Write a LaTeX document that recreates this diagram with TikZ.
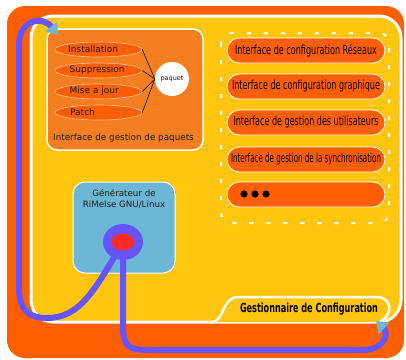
\documentclass[tikz,border=0pt]{standalone}
\usepackage{fontspec}
\setmainfont{DejaVu Sans}
\usetikzlibrary{shapes.geometric,arrows.meta}
\definecolor{outerorange}{RGB}{255,95,0}
\definecolor{boxyellow}{RGB}{255,198,16}
\definecolor{pkgorange}{RGB}{245,126,32}
\definecolor{genblue}{RGB}{108,182,214}
\definecolor{ringblue}{RGB}{102,85,255}
\definecolor{dotred}{RGB}{255,42,42}
\definecolor{txtdark}{RGB}{26,26,26}
\definecolor{ellborder}{RGB}{255,190,150}
\newcommand{\fitw}[2]{\resizebox{#1}{\height}{#2}}
\begin{document}
\begin{tikzpicture}[x=1pt,y=-1pt,
  pkgbox/.style={rectangle, rounded corners=10pt, fill=pkgorange, draw=white, line width=1.5pt, minimum width=156pt, minimum height=121pt, inner sep=0pt},
  pkgell/.style={ellipse, fill=outerorange, draw=ellborder, line width=0.6pt, minimum width=87pt, minimum height=15pt, inner sep=0pt},
  elltext/.style={anchor=west, inner sep=0pt, text=txtdark, font=\fontsize{9}{10}\selectfont},
  paqnode/.style={circle, fill=white, minimum size=34pt, inner sep=0pt, text=txtdark, font=\fontsize{6.5}{7}\selectfont},
  pill/.style={rectangle, rounded corners=12.5pt, fill=outerorange, draw=white, line width=0.8pt, minimum width=158pt, minimum height=25pt, inner sep=0pt, text=black, font=\fontsize{12.5}{13}\selectfont},
  genbox/.style={rectangle, rounded corners=12pt, fill=genblue, draw=white, line width=1pt, minimum width=102pt, minimum height=91pt, inner sep=0pt},
  bluepath/.style={draw=ringblue, line width=6pt},
  tip/.style={-{Triangle[length=11pt,width=15pt,color=genblue]}},
  wire/.style={draw=txtdark, line width=0.7pt}
]
\useasboundingbox (0,0) rectangle (406,359);
% outer frame
\fill[outerorange, rounded corners=18pt] (7,6) rectangle (404,358);
% configuration manager box
\draw[white, line width=3pt, fill=boxyellow, rounded corners=22pt] (31,16) rectangle (401,322);
\draw[white, line width=2.5pt, fill=boxyellow] (212,322) .. controls (224,322) and (222,297) .. (238,297) -- (376,297) .. controls (392,297) and (394,314) .. (380,322);
\node[inner sep=0pt, font=\bfseries\fontsize{12.5}{13}\selectfont, text=black] (gest) at (309,309.5) {\fitw{138pt}{Gestionnaire de Configuration}};
% package interface
\node[pkgbox] (pkg) at (125,89.5) {};
\node[pkgell] (inst) at (98.5,49.5) {};
\node[pkgell] (supp) at (98.5,70.5) {};
\node[pkgell] (maj) at (98.5,91.5) {};
\node[pkgell] (patch) at (98.5,112.5) {};
\node[elltext] (tinst) at (68,49.5) {Installation};
\node[elltext] (tsupp) at (69.5,70.5) {Suppression};
\node[elltext] (tmaj) at (69.5,91.5) {Mise a jour};
\node[elltext] (tpatch) at (70,112.5) {Patch};
\node[paqnode] (paq) at (172,79) {paquet};
\draw[wire] (inst.east) -- (paq.west);
\draw[wire] (supp.east) -- (paq.west);
\draw[wire] (maj.east) -- (paq.west);
\draw[wire] (patch.east) -- (paq.west);
\node[text=txtdark, inner sep=0pt, font=\fontsize{8.8}{10}\selectfont] (pkglbl) at (123.5,138) {Interface de gestion de paquets};
% dashed group
\draw[white, line width=2pt, dash pattern=on 4pt off 13pt, rounded corners=10pt] (221,33) rectangle (389,223);
\node[pill] (p1) at (306,50.5) {\fitw{142pt}{Interface de configuration Réseaux}};
\node[pill] (p2) at (306,86.5) {\fitw{148pt}{Interface de configuration graphique}};
\node[pill] (p3) at (306,122.5) {\fitw{145pt}{Interface de gestion des utilisateurs}};
\node[pill] (p4) at (306,159.5) {\fitw{150pt}{Interface de gestion de la synchronisation}};
\node[pill] (p5) at (306,194.5) {};
\fill[black] (244,194) circle (3.6pt) (255,194) circle (3.6pt) (266,194) circle (3.6pt);
% generator
\node[genbox] (gen) at (124,227.5) {};
\node[align=center, text=txtdark, inner sep=0pt, font=\fontsize{8.7}{10.5}\selectfont] (genlbl) at (124,199) {Générateur de\\RiMelse GNU/Linux};
\coordinate (rc) at (123,242);
\coordinate (tipA) at (58,35);
\coordinate (tipB) at (376,321);
% blue connectors
\draw[bluepath, tip] (rc) .. controls (95,290) and (80,318) .. (47,318) .. controls (27,318) and (19,308) .. (19,288) -- (19,45) .. controls (19,20) and (42,15) .. (tipA);
\draw[bluepath, tip] (rc) -- (123,328) .. controls (123,347) and (130,350) .. (148,350) -- (362,350) .. controls (385,350) and (389,333) .. (tipB);
% ring
\node[ellipse, fill=ringblue, minimum width=40pt, minimum height=36pt, inner sep=0pt] (ring) at (rc) {};
\node[ellipse, fill=dotred, minimum width=23pt, minimum height=17pt, inner sep=0pt] (reddot) at (rc) {};
\end{tikzpicture}
\end{document}
